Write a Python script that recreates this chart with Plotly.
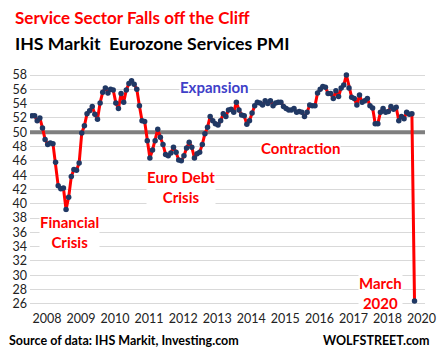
import plotly.graph_objects as go

pmi_2008 = [52.3, 52.3, 51.6, 52.0, 50.6, 49.0, 48.3, 48.5, 48.4, 45.8, 42.5, 42.1]
pmi_2009 = [42.2, 39.2, 40.9, 43.8, 44.8, 44.7, 45.7, 49.9, 50.9, 52.6, 53.0, 53.6]
pmi_2010 = [52.5, 51.8, 54.1, 55.6, 56.2, 55.5, 56.0, 55.9, 54.1, 53.3, 55.4, 54.2]
pmi_2011 = [55.9, 56.8, 57.2, 56.7, 56.0, 53.7, 51.6, 51.5, 48.8, 46.4, 47.5, 48.8]
pmi_2012 = [50.4, 49.3, 48.3, 46.9, 46.7, 47.1, 47.9, 47.2, 46.1, 46.0, 46.7, 47.8]
pmi_2013 = [48.6, 47.9, 46.4, 47.0, 47.2, 48.3, 49.8, 50.7, 52.2, 51.6, 51.2, 51.0]
pmi_2014 = [51.6, 52.6, 52.2, 53.1, 53.2, 52.8, 54.2, 53.1, 52.4, 52.3, 51.1, 51.6]
pmi_2015 = [52.7, 53.7, 54.2, 54.1, 53.8, 54.4, 54.0, 54.4, 53.7, 54.1, 54.2, 54.2]
pmi_2016 = [53.6, 53.3, 53.1, 53.1, 53.3, 52.8, 52.9, 52.8, 52.2, 52.8, 53.8, 53.7]
pmi_2017 = [53.7, 55.5, 56.0, 56.4, 56.3, 55.4, 55.4, 54.7, 55.8, 55.0, 56.2, 56.6]
pmi_2018 = [58.0, 56.2, 54.9, 54.7, 53.8, 55.2, 54.2, 54.4, 54.7, 53.7, 53.4, 51.2]
pmi_2019 = [51.2, 52.8, 53.3, 52.8, 52.9, 53.6, 53.2, 53.5, 51.6, 52.2, 51.9, 52.8]
pmi_2020 = [52.5, 52.6, 26.4]

tick_labels = ["2008", "2009", "2010", "2011", "2012", "2013", "2014",
               "2015", "2016", "2017", "2018", "2020"]
y_ticks = list(range(26, 59, 2))
threshold = 50

values = (pmi_2008 + pmi_2009 + pmi_2010 + pmi_2011 + pmi_2012 + pmi_2013 +
          pmi_2014 + pmi_2015 + pmi_2016 + pmi_2017 + pmi_2018 + pmi_2019 + pmi_2020)
idx = list(range(len(values)))
tickvals = [5.7 + 13 * i for i in range(len(tick_labels))]
grid_vals = [v for v in y_ticks if v != threshold]

FONT = "Lato"
RED = "#FF0000"
L, R, T, B = 30, 425, 64, 309

fig = go.Figure()
fig.add_trace(go.Scatter(
    x=idx, y=values, mode="lines+markers",
    line=dict(color=RED, width=3),
    marker=dict(color="#203864", size=5.5, symbol="circle"),
    hoverinfo="skip", showlegend=False,
))

fig.add_shape(type="line", xref="paper", x0=0, x1=1, yref="y", y0=threshold, y1=threshold,
              line=dict(color="#7F7F7F", width=4), layer="below")

def lab(text, x, y, color=RED, size=15):
    fig.add_annotation(x=x, y=y, xref="x", yref="y", text="<b>%s</b>" % text,
                       showarrow=False, font=dict(family=FONT, size=size, color=color),
                       bgcolor="white", borderpad=0, align="center")

lab("Expansion", 69.8, 56.3, color="#4040C8")
lab("Contraction", 102.3, 47.8)
lab("Euro Debt<br>Crisis", 56.9, 42.3)
lab("Financial<br>Crisis", 14.5, 36.0)
lab("March<br>2020", 133.2, 27.5)

def ptext(text, xpx, ypx, color, size, anchor="left"):
    fig.add_annotation(x=(xpx - L) / (R - L), y=(B - ypx) / (B - T), xref="paper", yref="paper",
                       text="<b>%s</b>" % text, showarrow=False, xanchor=anchor, yanchor="middle",
                       font=dict(family=FONT, size=size, color=color))

ptext("Service Sector Falls off the Cliff", 13, 18, RED, 17)
ptext("IHS Markit  Eurozone Services PMI", 13, 44, "black", 17.7)
ptext("Source of data: IHS Markit, Investing.com", 7, 340, "black", 12.5)
ptext("WOLFSTREET.com", 432, 340, "black", 12.5, anchor="right")

px_per_unit = 7.153
y_top = 58 + (75 - T) / px_per_unit
y_bot = 26 - (B - 303.9) / px_per_unit

fig.update_layout(
    template="none",
    width=441, height=357,
    margin=dict(l=L, r=441 - R, t=T, b=357 - B, pad=0),
    paper_bgcolor="white", plot_bgcolor="white",
    font=dict(family=FONT, size=12, color="#222"),
    xaxis=dict(range=[-0.76, 150.0], tickvals=tickvals, ticktext=tick_labels,
               showgrid=False, zeroline=False, showline=False, ticks="", automargin=False,
               tickfont=dict(size=12.5, color="#222")),
    yaxis=dict(range=[y_bot, y_top], tickvals=y_ticks, showgrid=False,
               minor=dict(tickmode="array", tickvals=grid_vals, showgrid=True,
                          gridcolor="#D9D9D9", gridwidth=1, ticks=""),
               zeroline=False, showline=False,
               ticks="", automargin=False, tickfont=dict(size=12.5, color="#222"),
               ticklabelstandoff=2),
)

fig.write_html("out.html", config={"displayModeBar": False},
               post_script="document.body.style.margin='0';document.body.style.overflow='hidden';")
